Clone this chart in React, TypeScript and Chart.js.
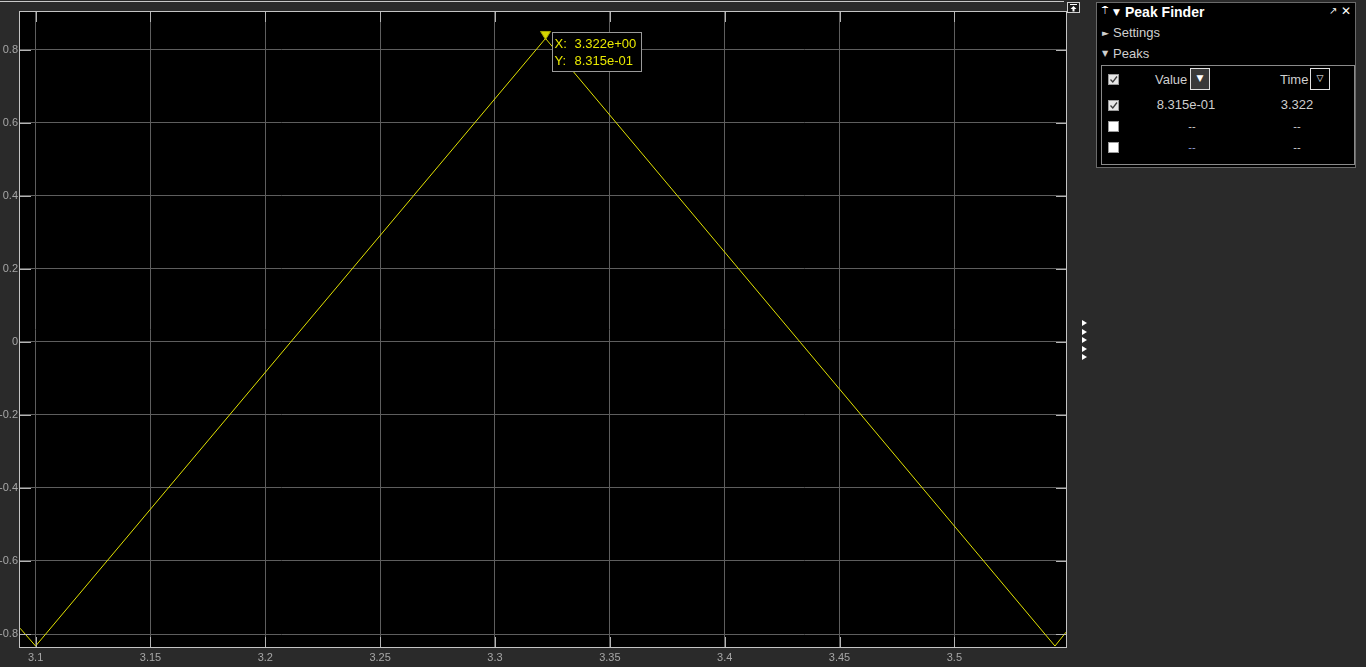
import React, { useEffect, useRef } from "react";
import { Chart, registerables } from "chart.js";

Chart.register(...registerables);

// ---- data ----
const xValues = [3.0932, 3.1, 3.322, 3.5438, 3.5486];
const yValues = [-0.784, -0.833, 0.8315, -0.833, -0.795];

const xTicks = [3.1, 3.15, 3.2, 3.25, 3.3, 3.35, 3.4, 3.45, 3.5];
const xTickLabels = ["3.1", "3.15", "3.2", "3.25", "3.3", "3.35", "3.4", "3.45", "3.5"];
const yTicks = [-0.8, -0.6, -0.4, -0.2, 0, 0.2, 0.4, 0.6, 0.8];
const yTickLabels = ["-0.8", "-0.6", "-0.4", "-0.2", "0", "0.2", "0.4", "0.6", "0.8"];

const xMin = 3.0932;
const xMax = 3.5486;
const yMin = -0.8356;
const yMax = 0.904;

const peakX = 3.322;
const peakY = 0.8315;
const peakLabelKeys = ["X:", "Y:"];
const peakLabelValues = ["3.322e+00", "8.315e-01"];

const tableHeaders = ["Value", "Time"];
const tableRows = [
  { checked: true, value: "8.315e-01", time: "3.322" },
  { checked: false, value: "--", time: "--" },
  { checked: false, value: "--", time: "--" },
];

const lineColor = "#e2e200";

function labelFor(ticks: number[], labels: string[], v: number) {
  const i = ticks.findIndex((t) => Math.abs(t - v) < 1e-9);
  return i >= 0 ? labels[i] : "";
}

const decorPlugin = {
  id: "decor",
  beforeDraw(chart: any) {
    const { ctx, chartArea } = chart;
    ctx.save();
    ctx.fillStyle = "#000000";
    ctx.fillRect(chartArea.left, chartArea.top, chartArea.right - chartArea.left, chartArea.bottom - chartArea.top);
    ctx.restore();
  },
  afterDatasetsDraw(chart: any) {
    const { ctx, chartArea, scales } = chart;
    const { left, right, top, bottom } = chartArea;
    ctx.save();
    // inner tick marks
    ctx.strokeStyle = "#b4b4b4";
    ctx.lineWidth = 1;
    ctx.beginPath();
    xTicks.forEach((v) => {
      const px = Math.round(scales.x.getPixelForValue(v)) + 0.5;
      ctx.moveTo(px, top);
      ctx.lineTo(px, top + 10);
      ctx.moveTo(px, bottom);
      ctx.lineTo(px, bottom - 10);
    });
    yTicks.forEach((v) => {
      const py = Math.round(scales.y.getPixelForValue(v)) + 0.5;
      ctx.moveTo(left, py);
      ctx.lineTo(left + 11, py);
      ctx.moveTo(right, py);
      ctx.lineTo(right - 10, py);
    });
    ctx.stroke();
    // border
    ctx.strokeStyle = "#c4c4c4";
    ctx.strokeRect(Math.round(left) - 0.5, Math.round(top) - 0.5, Math.round(right - left) + 1, Math.round(bottom - top) + 1);

    // peak marker
    const px = scales.x.getPixelForValue(peakX);
    const py = scales.y.getPixelForValue(peakY);
    ctx.fillStyle = "#d6d600";
    ctx.strokeStyle = "#a8a800";
    ctx.beginPath();
    ctx.moveTo(px, py + 1);
    ctx.lineTo(px - 5, py - 7);
    ctx.lineTo(px + 5, py - 7);
    ctx.closePath();
    ctx.fill();
    ctx.stroke();

    // annotation box
    const bx = Math.round(px + 6) + 0.5;
    const by = Math.round(py - 6) + 0.5;
    const bw = 89;
    const bh = 39;
    ctx.fillStyle = "#000000";
    ctx.fillRect(bx, by, bw, bh);
    ctx.strokeStyle = "#9a9a9a";
    ctx.strokeRect(bx, by, bw, bh);
    ctx.fillStyle = "#e8e800";
    ctx.font = '13px "Liberation Sans", Arial, sans-serif';
    ctx.textBaseline = "middle";
    ctx.textAlign = "left";
    peakLabelKeys.forEach((k, i) => {
      const ty = by + 12 + i * 16.5;
      ctx.fillText(k, bx + 2, ty);
      ctx.fillText(peakLabelValues[i], bx + 22, ty);
    });
    ctx.restore();
  },
};

function CheckBox({ checked, x, y }: { checked: boolean; x: number; y: number }) {
  return (
    <div
      style={{
        position: "absolute",
        left: x,
        top: y,
        width: 11,
        height: 11,
        background: checked ? "#e6e6e6" : "#ffffff",
        boxSizing: "border-box",
        border: "1px solid #9a9a9a",
      }}
    >
      {checked && (
        <svg width="9" height="9" style={{ position: "absolute", left: 0, top: 0 }}>
          <path d="M1.5 4.5 L3.8 7 L8 1.5" stroke="#3a3a3a" strokeWidth="1.3" fill="none" />
        </svg>
      )}
    </div>
  );
}

export default function App() {
  const canvasRef = useRef<HTMLCanvasElement | null>(null);

  useEffect(() => {
    const canvas = canvasRef.current;
    if (!canvas) return;
    const chart = new Chart(canvas, {
      type: "line",
      data: {
        datasets: [
          {
            data: xValues.map((x, i) => ({ x, y: yValues[i] })),
            borderColor: lineColor,
            borderWidth: 1,
            pointRadius: 0,
            tension: 0,
            fill: false,
          },
        ],
      },
      plugins: [decorPlugin],
      options: {
        animation: false,
        responsive: false,
        maintainAspectRatio: false,
        layout: { padding: { top: 12, right: 4, left: 0, bottom: 0 } },
        plugins: { legend: { display: false }, tooltip: { enabled: false } },
        scales: {
          x: {
            type: "linear",
            min: xMin,
            max: xMax,
            afterBuildTicks: (s: any) => {
              s.ticks = xTicks.map((v) => ({ value: v }));
            },
            afterFit: (s: any) => {
              s.height = 20;
            },
            grid: { color: "#5e5e5e", lineWidth: 1, drawTicks: false },
            border: { display: false },
            ticks: {
              padding: 4,
              color: "#a6a6a6",
              font: { family: '"Liberation Sans", Arial, sans-serif', size: 11 },
              maxRotation: 0,
              autoSkip: false,
              callback: (v: any) => labelFor(xTicks, xTickLabels, Number(v)),
            },
          },
          y: {
            type: "linear",
            min: yMin,
            max: yMax,
            afterBuildTicks: (s: any) => {
              s.ticks = yTicks.map((v) => ({ value: v }));
            },
            afterFit: (s: any) => {
              s.width = 20;
            },
            grid: { color: "#5e5e5e", lineWidth: 1, drawTicks: false },
            border: { display: false },
            ticks: {
              padding: 2,
              color: "#a6a6a6",
              font: { family: '"Liberation Sans", Arial, sans-serif', size: 11 },
              autoSkip: false,
              callback: (v: any) => labelFor(yTicks, yTickLabels, Number(v)),
            },
          },
        },
      },
    } as any);
    return () => chart.destroy();
  }, []);

  const panelFont = '"Liberation Sans", Arial, sans-serif';
  const glyphFont = '"DejaVu Sans", sans-serif';

  return (
    <div
      style={{
        position: "fixed",
        left: 0,
        top: 0,
        width: 1366,
        height: 667,
        background: "#2a2a2a",
        overflow: "hidden",
        fontFamily: panelFont,
      }}
    >
      <div style={{ position: "absolute", left: 0, top: 1, width: 1064, height: 1, background: "#c8c8c8" }} />
      <canvas
        ref={canvasRef}
        width={1070}
        height={667}
        style={{ position: "absolute", left: 0, top: 0, width: 1070, height: 667 }}
      />

      {/* undock icon */}
      <div
        style={{
          position: "absolute",
          left: 1067,
          top: 2,
          width: 13,
          height: 11,
          boxSizing: "border-box",
          border: "1px solid #d0d0d0",
          background: "#1a1a1a",
        }}
      >
        <svg width="11" height="9" style={{ position: "absolute", left: 0, top: 0 }}>
          <path d="M2 1.5 H9" stroke="#ffffff" strokeWidth="1" />
          <path d="M5.5 3 L2.5 6 H4.5 V8.5 H6.5 V6 H8.5 Z" fill="#ffffff" />
        </svg>
      </div>

      {/* side arrows */}
      {[323, 331.5, 340, 348.5, 357].map((cy, i) => (
        <div
          key={i}
          style={{
            position: "absolute",
            left: 1082,
            top: cy - 3,
            width: 0,
            height: 0,
            borderTop: "3px solid transparent",
            borderBottom: "3px solid transparent",
            borderLeft: "5px solid #ffffff",
          }}
        />
      ))}

      {/* Peak Finder panel */}
      <div
        style={{
          position: "absolute",
          left: 1096,
          top: 2,
          width: 260,
          height: 166,
          boxSizing: "border-box",
          border: "1px solid #6a6a6a",
          background: "#000000",
        }}
      />
      <div style={{ position: "absolute", left: 1102, top: 4, color: "#ffffff", fontSize: 10, fontFamily: glyphFont, lineHeight: "14px" }}>
        ⍑
      </div>
      <div style={{ position: "absolute", left: 1113, top: 5, color: "#ffffff", fontSize: 9, fontFamily: glyphFont, lineHeight: "14px" }}>
        ▼
      </div>
      <div style={{ position: "absolute", left: 1125, top: 4, color: "#ffffff", fontSize: 14, fontWeight: "bold", lineHeight: "16px" }}>
        Peak Finder
      </div>
      <div style={{ position: "absolute", left: 1329, top: 4, color: "#ffffff", fontSize: 10, fontFamily: glyphFont, lineHeight: "14px" }}>
        ↗
      </div>
      <div style={{ position: "absolute", left: 1341, top: 3, color: "#ffffff", fontSize: 12, fontFamily: glyphFont, fontWeight: "bold", lineHeight: "16px" }}>
        ✕
      </div>

      <div style={{ position: "absolute", left: 1102, top: 28, color: "#cfcfcf", fontSize: 9, fontFamily: glyphFont, lineHeight: "10px" }}>
        ►
      </div>
      <div style={{ position: "absolute", left: 1113, top: 25, color: "#cfcfcf", fontSize: 13, lineHeight: "16px" }}>
        Settings
      </div>
      <div style={{ position: "absolute", left: 1102, top: 49, color: "#cfcfcf", fontSize: 8, fontFamily: glyphFont, lineHeight: "10px" }}>
        ▼
      </div>
      <div style={{ position: "absolute", left: 1113, top: 46, color: "#cfcfcf", fontSize: 13, lineHeight: "16px" }}>
        Peaks
      </div>

      {/* table */}
      <div
        style={{
          position: "absolute",
          left: 1101,
          top: 65,
          width: 254,
          height: 100,
          boxSizing: "border-box",
          border: "1px solid #8a8a8a",
        }}
      />
      <CheckBox checked={true} x={1108} y={74} />
      <div style={{ position: "absolute", left: 1155, top: 72, color: "#cfcfcf", fontSize: 13, lineHeight: "16px" }}>
        {tableHeaders[0]}
      </div>
      <div
        style={{
          position: "absolute",
          left: 1190,
          top: 68,
          width: 20,
          height: 22,
          boxSizing: "border-box",
          border: "1px solid #e0e0e0",
          background: "#3a3a3a",
          color: "#ffffff",
          fontSize: 9,
          fontFamily: glyphFont,
          lineHeight: "18px",
          textAlign: "center",
        }}
      >
        ▼
      </div>
      <div style={{ position: "absolute", left: 1280, top: 72, color: "#cfcfcf", fontSize: 13, lineHeight: "16px" }}>
        {tableHeaders[1]}
      </div>
      <div
        style={{
          position: "absolute",
          left: 1310,
          top: 68,
          width: 20,
          height: 22,
          boxSizing: "border-box",
          border: "1px solid #e0e0e0",
          background: "#000000",
          color: "#ffffff",
          fontSize: 9,
          fontFamily: glyphFont,
          lineHeight: "18px",
          textAlign: "center",
        }}
      >
        ▽
      </div>

      {tableRows.map((r, i) => {
        const cy = 105 + i * 21;
        const isDash = r.value === "--";
        return (
          <React.Fragment key={i}>
            <CheckBox checked={r.checked} x={1108} y={cy - 5} />
            <div
              style={{
                position: "absolute",
                left: isDash ? 1140 : 1134,
                width: 104,
                textAlign: "center",
                top: cy - 8,
                color: i === 2 ? "#8e9cd0" : "#cfcfcf",
                fontSize: isDash ? 11 : 13,
                lineHeight: "16px",
              }}
            >
              {r.value}
            </div>
            <div
              style={{
                position: "absolute",
                left: 1262,
                width: 70,
                textAlign: "center",
                top: cy - 8,
                color: "#cfcfcf",
                fontSize: r.time === "--" ? 11 : 13,
                lineHeight: "16px",
              }}
            >
              {r.time}
            </div>
          </React.Fragment>
        );
      })}
    </div>
  );
}
